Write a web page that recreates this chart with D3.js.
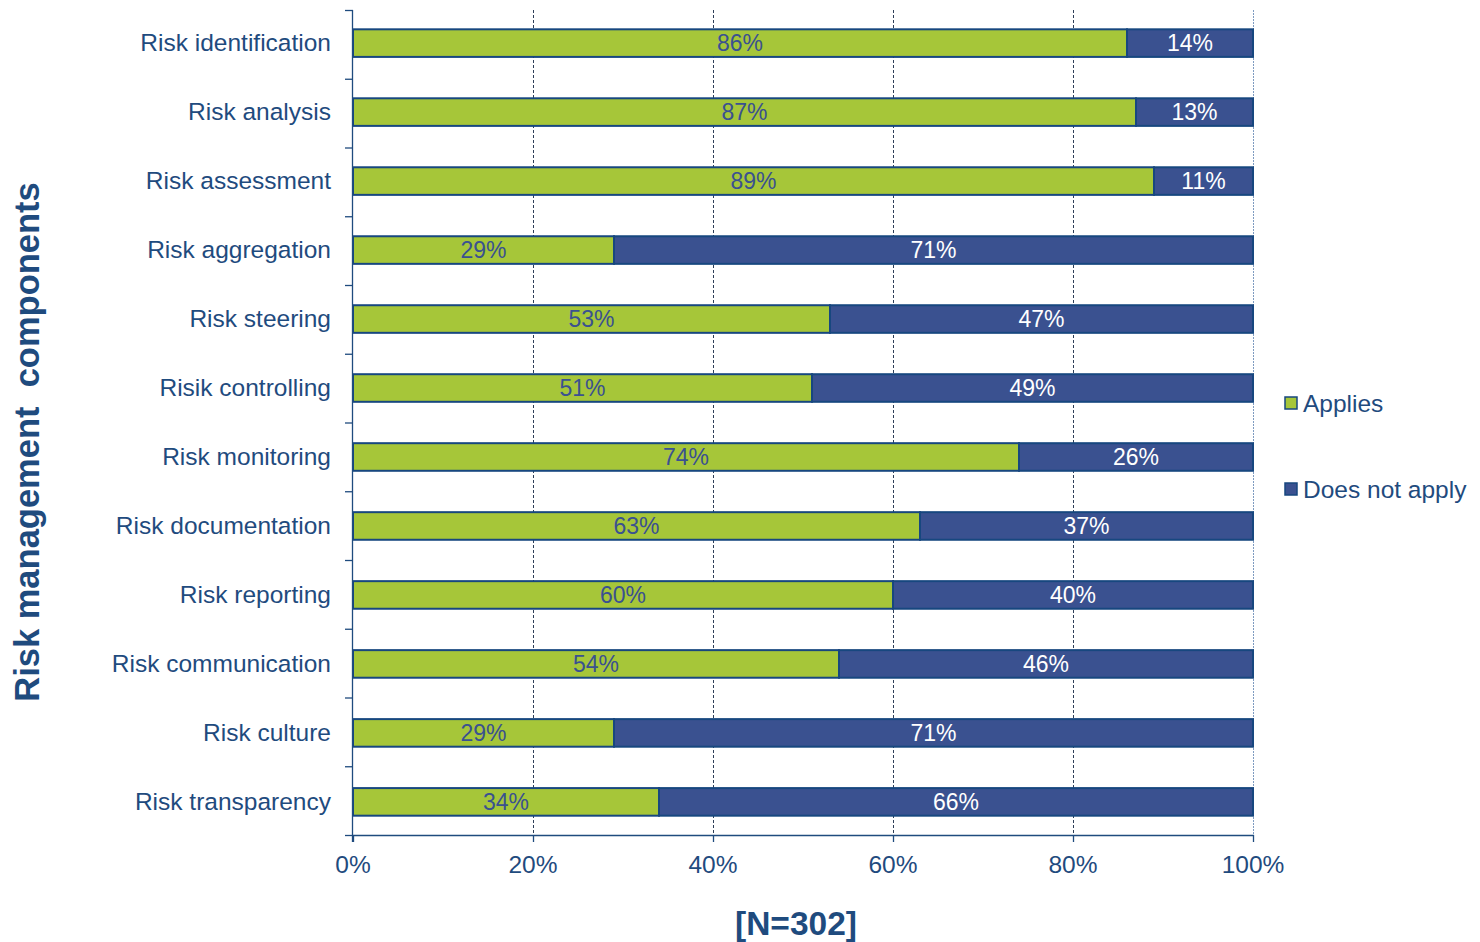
<!DOCTYPE html>
<html>
<head>
<meta charset="utf-8">
<script src="https://cdn.jsdelivr.net/npm/d3@7"></script>
<style>
  html, body { margin: 0; padding: 0; background: #fff; }
  svg { display: block; font-family: "Liberation Sans", Arial, sans-serif; }
</style>
</head>
<body>
<svg id="chart" width="1480" height="942"></svg>
<script>
// Survey results: share of institutions where each component applies
const categories = [
  "Risk identification", "Risk analysis", "Risk assessment", "Risk aggregation",
  "Risk steering", "Risik controlling", "Risk monitoring", "Risk documentation",
  "Risk reporting", "Risk communication", "Risk culture", "Risk transparency"
];
const applies      = [86, 87, 89, 29, 53, 51, 74, 63, 60, 54, 29, 34];
const doesNotApply = [14, 13, 11, 71, 47, 49, 26, 37, 40, 46, 71, 66];
const seriesNames  = ["Applies", "Does not apply"];
const xTicks       = [0, 20, 40, 60, 80, 100];
const yTitle       = "Risk management  components";
const xTitle       = "[N=302]";

const colors = { applies: "#A6C639", notApply: "#3A5190", edge: "#17477F", text: "#1F4B7E" };

const svg = d3.select("#chart");
const m = { left: 353, right: 1253, top: 10, bottom: 835 };

const x = d3.scaleLinear().domain([0, 100]).range([m.left, m.right]);
const y = d3.scaleBand().domain(categories).range([m.top, m.bottom]).paddingInner(0.6).paddingOuter(0.28);
const yOuter = d3.scaleBand().domain(categories).range([m.top, m.bottom]);

// vertical dashed gridlines
svg.append("g").selectAll("line").data(xTicks.filter(d => d > 0)).join("line")
  .attr("x1", d => x(d) + 0.5).attr("x2", d => x(d) + 0.5)
  .attr("y1", m.top).attr("y2", m.bottom)
  .attr("stroke", d => d === 100 ? "#7E9BC0" : "#2D3E57")
  .attr("stroke-width", 1)
  .attr("stroke-dasharray", d => d === 100 ? "2,1" : "3,2");

// stacked bars
const rows = categories.map((c, i) => ({ c, a: applies[i], n: doesNotApply[i] }));
const g = svg.append("g");
g.selectAll("rect.a").data(rows).join("rect").attr("class", "a")
  .attr("x", x(0)).attr("y", d => y(d.c))
  .attr("width", d => x(d.a) - x(0)).attr("height", y.bandwidth())
  .attr("fill", colors.applies).attr("stroke", colors.edge).attr("stroke-width", 2);
g.selectAll("rect.n").data(rows).join("rect").attr("class", "n")
  .attr("x", d => x(d.a)).attr("y", d => y(d.c))
  .attr("width", d => x(d.a + d.n) - x(d.a)).attr("height", y.bandwidth())
  .attr("fill", colors.notApply).attr("stroke", colors.edge).attr("stroke-width", 2);

// value labels
g.selectAll("text.la").data(rows).join("text").attr("class", "la")
  .attr("x", d => (x(0) + x(d.a)) / 2).attr("y", d => y(d.c) + y.bandwidth() / 2)
  .attr("dy", "0.36em").attr("text-anchor", "middle")
  .attr("font-size", 23).attr("fill", "#3A5190").text(d => d.a + "%");
g.selectAll("text.ln").data(rows).join("text").attr("class", "ln")
  .attr("x", d => (x(d.a) + x(d.a + d.n)) / 2).attr("y", d => y(d.c) + y.bandwidth() / 2)
  .attr("dy", "0.36em").attr("text-anchor", "middle")
  .attr("font-size", 23).attr("fill", "#ffffff").text(d => d.n + "%");

// left axis with ticks between categories
const axG = svg.append("g").attr("stroke", colors.text);
axG.append("line").attr("x1", m.left - 0.5).attr("x2", m.left - 0.5)
  .attr("y1", m.top).attr("y2", m.bottom + 7).attr("stroke-width", 1.3);
const sep = categories.map(c => yOuter(c)).concat([m.bottom]);
axG.selectAll("line.t").data(sep).join("line").attr("class", "t")
  .attr("x1", m.left - 8).attr("x2", m.left).attr("y1", d => d + 0.5).attr("y2", d => d + 0.5)
  .attr("stroke-width", 1.3);
// bottom axis
axG.append("line").attr("x1", m.left).attr("x2", m.right + 1)
  .attr("y1", m.bottom + 0.5).attr("y2", m.bottom + 0.5).attr("stroke-width", 1.3);
axG.selectAll("line.bt").data(xTicks).join("line").attr("class", "bt")
  .attr("x1", d => x(d) + 0.5).attr("x2", d => x(d) + 0.5)
  .attr("y1", m.bottom).attr("y2", m.bottom + 7).attr("stroke-width", 1.3);

// category labels
svg.append("g").selectAll("text").data(categories).join("text")
  .attr("x", 331).attr("y", d => y(d) + y.bandwidth() / 2 - 0.5).attr("dy", "0.36em")
  .attr("text-anchor", "end").attr("font-size", 24.5).attr("fill", colors.text).text(d => d);

// x tick labels
svg.append("g").selectAll("text").data(xTicks).join("text")
  .attr("x", d => x(d)).attr("y", 873).attr("text-anchor", "middle")
  .attr("font-size", 24.5).attr("fill", colors.text).text(d => d + "%");

// axis titles
svg.append("text").attr("transform", "translate(39,442) rotate(-90)")
  .attr("text-anchor", "middle").attr("font-size", 34.5).attr("font-weight", "bold")
  .attr("fill", colors.text).attr("xml:space", "preserve").style("white-space", "pre").text(yTitle);
svg.append("text").attr("x", 796).attr("y", 935).attr("text-anchor", "middle")
  .attr("font-size", 33.5).attr("font-weight", "bold").attr("fill", colors.text).text(xTitle);

// legend
const legend = svg.append("g").selectAll("g").data(seriesNames).join("g")
  .attr("transform", (d, i) => `translate(1285,${403 + i * 86})`);
legend.append("rect").attr("x", 0).attr("y", -6).attr("width", 12).attr("height", 12)
  .attr("fill", (d, i) => i === 0 ? colors.applies : colors.notApply)
  .attr("stroke", colors.edge).attr("stroke-width", 1.5);
legend.append("text").attr("x", 18).attr("y", 0).attr("dy", "0.36em")
  .attr("font-size", 24.5).attr("fill", colors.text).text(d => d);
</script>
</body>
</html>
